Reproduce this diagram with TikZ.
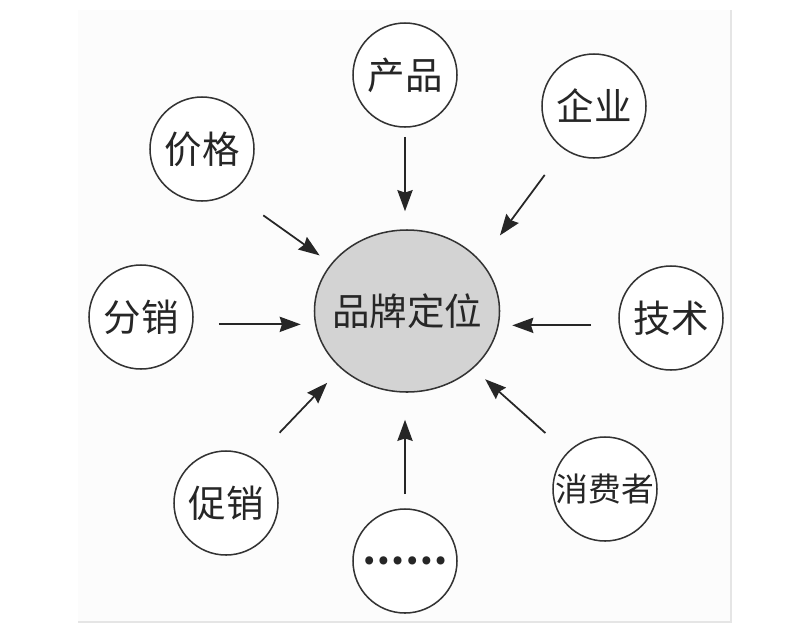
\documentclass[tikz,border=0pt]{standalone}
\usepackage{fontspec}
\newfontfamily\cjk{Noto Sans CJK SC}
\usepackage{xcolor}
\usepackage{tikz}
\usetikzlibrary{arrows.meta,shapes.geometric}
\definecolor{hubgray}{RGB}{211,211,211}

\begin{document}
\begin{tikzpicture}[
    x=0.03cm, y=-0.03cm,
    factor/.style={circle, draw=black!80, line width=1.3pt, fill=white, minimum size=3.12cm, inner sep=0pt, font=\cjk\fontsize{32}{32}\selectfont, text=black!85},
    hub/.style={ellipse, draw=black!80, line width=1.3pt, fill=hubgray, minimum width=5.55cm, minimum height=4.86cm, inner sep=0pt, font=\cjk\fontsize{32}{32}\selectfont, text=black!85},
    arrow/.style={-{Stealth[length=18pt,width=13pt,inset=2pt]}, line width=1.5pt, draw=black!85}
]
\useasboundingbox (0,0) rectangle (811,636);

% Page frame
\fill[black!1] (78,10) rectangle (731,622);
\draw[black!10, line width=1pt] (78,622) -- (731,622) -- (731,10);

% Brand positioning hub
\node[hub] (brand) at (407,311) {\makebox[0pt]{品牌定位}};

% Factors around the hub
\node[factor] (prod) at (405,75) {产品};
\node[factor] (firm) at (594,106) {企业};
\node[factor] (price) at (202,149) {价格};
\node[factor] (dist) at (141,317) {分销};
\node[factor] (tech) at (671,318) {技术};
\node[factor] (promo) at (226,503) {促销};
\node[factor] (more) at (405,561) {\bfseries ……};
\node[factor, font=\cjk\fontsize{28}{28}\selectfont] (cons) at (605,489) {\makebox[0pt]{消费者}};

% Arrows into the hub
\draw[arrow, shorten <=0.27cm, shorten >=0.54cm] (prod.south) -- (prod.south |- brand.north);
\draw[arrow, shorten <=0.96cm, shorten >=0.96cm] (firm.235) -- (brand.34);
\draw[arrow, shorten <=1.17cm, shorten >=0.42cm] (price.-56) -- (brand.148);
\draw[arrow, shorten <=0.77cm, shorten >=0.39cm] (dist.-8) -- (dist.-8 -| brand.west);
\draw[arrow, shorten <=0.83cm, shorten >=0.36cm] (tech.188) -- (tech.188 -| brand.east);
\draw[arrow, shorten <=1.08cm, shorten >=0.59cm] (promo.57) -- (brand.221);
\draw[arrow, shorten <=0.42cm, shorten >=0.81cm] (more.north) -- (more.north |- brand.south);
\draw[arrow, shorten <=0.87cm, shorten >=0.48cm] (cons.136) -- (brand.-41);

\end{tikzpicture}
\end{document}
